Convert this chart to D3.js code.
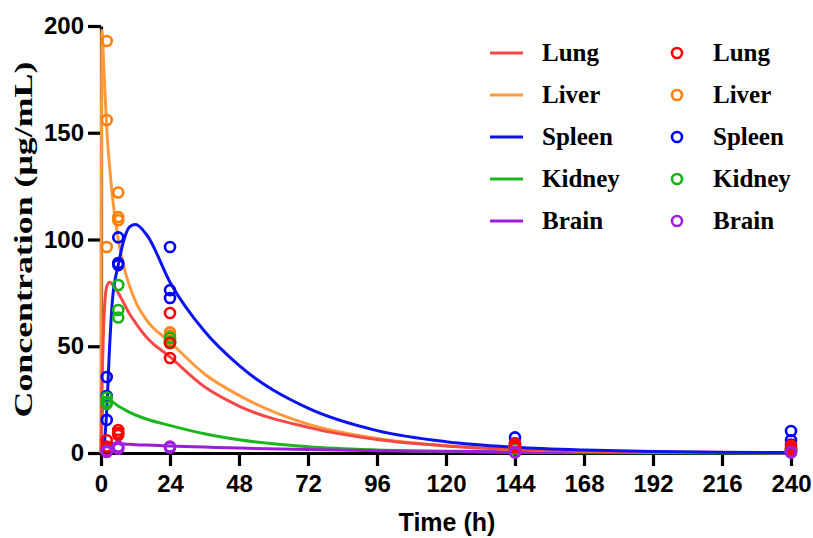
<html>
<head>
  <script src="https://d3js.org/d3.v7.min.js"></script>
  <style>
    body { margin: 0; background: #fff; }
  </style>
</head>
<body>
  <script>
    let width = 813;
    let height = 538;

    // organs, in legend order
    let organs = ["Lung", "Liver", "Spleen", "Kidney", "Brain"];
    let lineColors = ["#f74848", "#ff9a3c", "#0a14f0", "#1fb51f", "#9b1dd6"];
    let dotColors = ["#ff0000", "#ff7f0a", "#0000ff", "#14b414", "#a020e0"];

    // fitted curves
    let curveTimes = [0, 0.3, 1, 2, 3, 4, 6, 8, 10, 12, 16, 24, 36, 48, 72, 96, 120, 144, 168, 192, 216, 240];
    let lungCurve   = [0, 25, 62, 78, 80, 79, 75, 70, 65, 61, 54, 45, 31, 22, 12, 6.3, 3.3, 1.7, 0.9, 0.5, 0.25, 0.13];
    let liverCurve  = [0, 198, 180, 152, 134, 120, 100, 87, 78, 71, 62, 52, 37, 27, 13.5, 6.8, 3.4, 1.7, 0.85, 0.4, 0.2, 0.1];
    let spleenCurve = [0, 0, 3, 20, 50, 72, 88, 100, 106, 107, 102, 80, 57, 41, 21, 10.5, 5.3, 2.7, 1.4, 0.7, 0.35, 0.2];
    let kidneyCurve = [0, 14, 24, 25, 24.8, 24, 22, 20.5, 19, 17.8, 15.8, 12.9, 9, 6.2, 2.9, 1.4, 0.7, 0.35, 0.17, 0.08, 0.04, 0.02];
    let brainCurve  = [0, 2, 4.4, 4.6, 4.6, 4.5, 4.4, 4.2, 4.1, 3.9, 3.7, 3.3, 2.8, 2.3, 1.6, 1.1, 0.8, 0.55, 0.4, 0.25, 0.18, 0.12];

    // measured points: sampling times and replicates
    let sampleTimes = [2, 6, 24, 144, 240];
    let lungObs   = [[6, 1.4, 3], [10.8, 9.5, 8.4], [65.6, 51.5, 44.5], [4.5, 3.5, 2.5], [3.5, 2.5, 1.5]];
    let liverObs  = [[193, 156, 96.5], [122, 110.5, 109], [56.5, 55, 53], [3, 2.5, 2], [2.5, 2, 1.5]];
    let spleenObs = [[35.6, 26.7, 15.5], [101, 89, 88], [96.5, 76.3, 72.6], [7.3, 4.5, 3.5], [10.3, 6, 4]];
    let kidneyObs = [[26, 24, 23], [78.7, 67, 63.5], [54, 52, 51.5], [3, 2.5, 2], [2, 1.5, 1]];
    let brainObs  = [[1, 0.5, 0.8], [2.6, 2, 3], [3, 2.6, 2.8], [0.5, 0.3, 0.4], [0.5, 0.3, 0.3]];

    let xTicks = [0, 24, 48, 72, 96, 120, 144, 168, 192, 216, 240];
    let yTicks = [0, 50, 100, 150, 200];

    let curves = [lungCurve, liverCurve, spleenCurve, kidneyCurve, brainCurve];
    let observed = [lungObs, liverObs, spleenObs, kidneyObs, brainObs];

    let margin = { left: 101, top: 26, right: 22, bottom: 85 };

    let svg = d3.select("body")
      .append("svg")
      .attr("width", width)
      .attr("height", height);

    let x = d3.scaleLinear()
      .domain([0, 240])
      .range([margin.left, width - margin.right]);

    let y = d3.scaleLinear()
      .domain([0, 200])
      .range([height - margin.bottom, margin.top]);

    // axes
    let xAxis = svg.append("g")
      .attr("transform", "translate(0," + y(0) + ")")
      .call(d3.axisBottom(x).tickValues(xTicks).tickSize(13).tickSizeOuter(0).tickPadding(9));

    let yAxis = svg.append("g")
      .attr("transform", "translate(" + x(0) + ",0)")
      .call(d3.axisLeft(y).tickValues(yTicks).tickSize(13).tickSizeOuter(0).tickPadding(4));

    [xAxis, yAxis].forEach(function(a) {
      a.select(".domain").attr("stroke", "#000").attr("stroke-width", 3.2);
      a.selectAll(".tick line").attr("stroke", "#000").attr("stroke-width", 3.2);
      a.selectAll(".tick text")
        .attr("fill", "#000")
        .style("font-family", "'Liberation Sans', Arial, sans-serif")
        .style("font-weight", "bold")
        .style("font-size", "24px");
    });

    svg.append("text")
      .attr("x", (x(0) + x(240)) / 2 + 1)
      .attr("y", 531)
      .attr("text-anchor", "middle")
      .style("font-family", "'Liberation Sans', Arial, sans-serif")
      .style("font-weight", "bold")
      .style("font-size", "25px")
      .text("Time (h)");

    // y title is drawn stretched along the axis, as in the picture
    svg.append("text")
      .attr("transform", "translate(32," + ((y(0) + y(200)) / 2) + ") rotate(-90)")
      .attr("text-anchor", "middle")
      .attr("textLength", 356)
      .attr("lengthAdjust", "spacingAndGlyphs")
      .style("font-family", "'Liberation Serif', 'Times New Roman', serif")
      .style("font-weight", "bold")
      .style("font-size", "26px")
      .text("Concentration (μg/mL)");

    // fitted lines
    let line = d3.line()
      .x(function(d) { return x(d[0]); })
      .y(function(d) { return y(d[1]); })
      .curve(d3.curveMonotoneX);

    let lineOrder = [3, 4, 1, 0, 2];
    lineOrder.forEach(function(i) {
      svg.append("path")
        .datum(curveTimes.map(function(t, j) { return [t, curves[i][j]]; }))
        .attr("fill", "none")
        .attr("stroke", lineColors[i])
        .attr("stroke-width", 3)
        .attr("d", line);
    });

    // measured points
    let dotOrder = [2, 1, 3, 0, 4];
    dotOrder.forEach(function(i) {
      let pts = [];
      sampleTimes.forEach(function(t, j) {
        observed[i][j].forEach(function(v) { pts.push([t, v]); });
      });
      svg.append("g").selectAll("circle")
        .data(pts)
        .enter()
        .append("circle")
        .attr("cx", function(d) { return x(d[0]); })
        .attr("cy", function(d) { return y(d[1]); })
        .attr("r", 5)
        .attr("fill", "none")
        .attr("stroke", dotColors[i])
        .attr("stroke-width", 2.6);
    });

    // legend
    let legend = svg.append("g");
    let rowY = d3.scalePoint().domain(organs).range([53, 221]);

    organs.forEach(function(name, i) {
      let yy = rowY(name);
      legend.append("line")
        .attr("x1", 490).attr("x2", 523)
        .attr("y1", yy).attr("y2", yy)
        .attr("stroke", lineColors[i])
        .attr("stroke-width", 3);
      legend.append("text")
        .attr("x", 542).attr("y", yy + 8)
        .style("font-family", "'Liberation Serif', 'Times New Roman', serif")
        .style("font-weight", "bold")
        .style("font-size", "25px")
        .text(name);
      legend.append("circle")
        .attr("cx", 677).attr("cy", yy)
        .attr("r", 5)
        .attr("fill", "none")
        .attr("stroke", dotColors[i])
        .attr("stroke-width", 2.6);
      legend.append("text")
        .attr("x", 713).attr("y", yy + 8)
        .style("font-family", "'Liberation Serif', 'Times New Roman', serif")
        .style("font-weight", "bold")
        .style("font-size", "25px")
        .text(name);
    });
  </script>
</body>
</html>
